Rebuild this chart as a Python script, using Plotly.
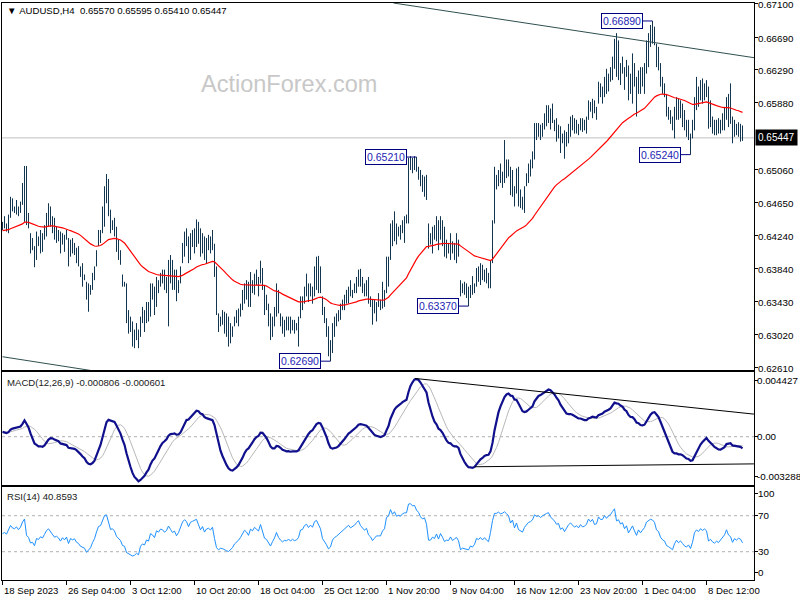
import plotly.graph_objects as go
import numpy as np

# ---------------- data (prices in pips: 6441 -> 0.6441) ----------------
x_tick_labels = ["18 Sep 2023", "26 Sep 04:00", "3 Oct 12:00", "10 Oct 20:00", "18 Oct 04:00",
                 "25 Oct 12:00", "1 Nov 20:00", "9 Nov 04:00", "16 Nov 12:00", "23 Nov 20:00",
                 "1 Dec 04:00", "8 Dec 12:00"]
bars_per_label = 32

high_pips = [
 6441,6448,6439,6450,6472,6470,6460,6468,6460,6466,
 6489,6510,6510,6452,6427,6421,6411,6429,6423,6431,
 6427,6437,6452,6464,6460,6448,6446,6435,6431,6429,
 6427,6425,6431,6421,6419,6421,6415,6409,6411,6386,
 6390,6376,6367,6365,6363,6378,6386,6406,6431,6431,
 6460,6485,6500,6494,6456,6443,6446,6435,6419,6406,
 6376,6367,6365,6332,6324,6318,6308,6316,6308,6324,
 6336,6332,6342,6342,6365,6365,6361,6373,6369,6378,
 6382,6382,6373,6394,6400,6394,6382,6382,6369,6386,
 6415,6429,6433,6423,6427,6431,6433,6444,6441,6433,
 6427,6423,6421,6425,6423,6431,6414,6386,6328,6324,
 6332,6330,6328,6324,6316,6312,6324,6332,6334,6340,
 6357,6365,6369,6367,6379,6369,6377,6382,6373,6393,
 6384,6363,6351,6340,6328,6324,6336,6365,6357,6328,
 6324,6320,6324,6324,6324,6320,6320,6316,6324,6349,
 6349,6361,6377,6365,6365,6361,6386,6398,6399,6386,
 6349,6336,6322,6312,6295,6316,6324,6328,6332,6340,
 6345,6351,6357,6361,6369,6357,6365,6373,6382,6383,
 6373,6365,6369,6373,6349,6345,6345,6342,6353,6345,
 6367,6357,6398,6398,6439,6443,6454,6439,6435,6437,
 6443,6448,6450,6520,6522,6520,6522,6521,6509,6505,
 6499,6497,6499,6439,6427,6435,6437,6448,6443,6448,
 6443,6435,6419,6415,6427,6417,6415,6427,6419,6369,
 6365,6367,6365,6361,6363,6374,6365,6384,6386,6390,
 6388,6382,6384,6378,6394,6443,6509,6499,6505,6513,
 6503,6542,6518,6518,6509,6505,6485,6507,6509,6481,
 6472,6485,6501,6513,6518,6528,6563,6563,6563,6561,
 6563,6575,6585,6585,6581,6587,6567,6569,6561,6559,
 6550,6554,6552,6562,6571,6573,6569,6567,6562,6569,
 6569,6567,6571,6591,6589,6593,6591,6583,6614,6612,
 6608,6620,6630,6624,6632,6645,6667,6674,6665,6637,
 6645,6632,6641,6634,6624,6649,6637,6620,6628,6632,
 6632,6637,6665,6674,6684,6689,6682,6661,6657,6637,
 6620,6612,6599,6583,6579,6571,6583,6595,6593,6591,
 6587,6579,6567,6567,6550,6567,6595,6620,6608,6616,
 6618,6612,6616,6608,6591,6571,6567,6567,6569,6567,
 6575,6583,6595,6599,6612,6571,6567,6562,6564,6562,
 6560]

low_pips = [
 6431,6433,6429,6427,6446,6454,6452,6450,6448,6452,
 6462,6441,6437,6433,6402,6406,6385,6394,6411,6402,
 6404,6419,6423,6435,6435,6427,6419,6415,6417,6402,
 6413,6404,6419,6386,6398,6402,6400,6390,6386,6373,
 6361,6369,6345,6330,6351,6357,6369,6386,6411,6415,
 6427,6435,6464,6448,6427,6431,6423,6404,6394,6388,
 6361,6361,6316,6303,6305,6287,6285,6295,6285,6299,
 6316,6305,6316,6318,6324,6345,6326,6336,6353,6361,
 6365,6357,6353,6312,6365,6357,6357,6343,6353,6365,
 6390,6398,6411,6390,6394,6410,6402,6410,6414,6398,
 6402,6394,6390,6406,6402,6406,6373,6326,6305,6312,
 6314,6303,6299,6287,6291,6299,6312,6316,6312,6324,
 6332,6340,6345,6336,6336,6353,6351,6363,6349,6365,
 6357,6326,6332,6312,6295,6299,6312,6324,6328,6312,
 6303,6299,6307,6307,6303,6307,6303,6307,6287,6322,
 6332,6340,6349,6342,6349,6340,6349,6357,6353,6353,
 6326,6316,6299,6275,6269,6279,6299,6312,6318,6320,
 6332,6332,6340,6340,6349,6347,6353,6353,6361,6361,
 6353,6349,6349,6340,6336,6314,6328,6318,6336,6332,
 6334,6336,6353,6361,6394,6411,6417,6413,6423,6419,
 6427,6415,6439,6439,6505,6501,6505,6503,6493,6485,
 6478,6472,6468,6408,6413,6402,6419,6417,6406,6419,
 6411,6398,6396,6402,6394,6402,6394,6390,6398,6349,
 6353,6351,6347,6337,6347,6351,6353,6361,6367,6363,
 6369,6367,6365,6359,6359,6390,6439,6481,6485,6489,
 6483,6489,6495,6497,6474,6472,6460,6476,6460,6458,
 6456,6452,6485,6489,6497,6507,6518,6542,6546,6542,
 6546,6555,6559,6563,6555,6563,6553,6540,6544,6526,
 6538,6519,6534,6538,6546,6554,6550,6550,6548,6554,
 6552,6554,6550,6567,6577,6569,6575,6567,6587,6595,
 6587,6595,6599,6602,6614,6616,6630,6620,6616,6610,
 6624,6604,6620,6591,6599,6587,6608,6571,6599,6599,
 6608,6599,6624,6632,6657,6661,6659,6632,6628,6608,
 6599,6595,6571,6567,6562,6554,6544,6567,6567,6569,
 6558,6554,6546,6542,6524,6544,6554,6579,6583,6591,
 6587,6591,6595,6556,6558,6550,6548,6548,6550,6550,
 6554,6554,6567,6558,6562,6538,6546,6548,6546,6540,
 6541]

close_pips = [
 6436,6440,6435,6448,6465,6458,6456,6462,6455,6463,
 6482,6495,6445,6436,6410,6412,6395,6420,6415,6425,
 6420,6433,6448,6455,6445,6435,6425,6428,6422,6410,
 6420,6412,6420,6395,6410,6405,6408,6395,6390,6378,
 6372,6370,6350,6355,6360,6372,6382,6402,6422,6425,
 6452,6475,6480,6455,6435,6438,6430,6410,6400,6392,
 6368,6364,6325,6315,6310,6298,6300,6305,6295,6318,
 6325,6320,6335,6330,6355,6350,6340,6365,6360,6372,
 6370,6362,6368,6385,6375,6365,6370,6355,6365,6382,
 6408,6420,6415,6400,6420,6425,6430,6435,6420,6405,
 6418,6400,6412,6415,6410,6420,6380,6330,6315,6320,
 6318,6310,6305,6300,6305,6310,6320,6325,6330,6338,
 6350,6360,6355,6345,6365,6360,6372,6368,6362,6385,
 6360,6340,6335,6318,6305,6318,6330,6350,6330,6318,
 6310,6315,6312,6318,6310,6315,6310,6312,6318,6340,
 6342,6355,6360,6352,6360,6355,6375,6380,6370,6360,
 6330,6320,6305,6285,6290,6310,6318,6322,6328,6335,
 6340,6348,6352,6358,6352,6355,6360,6368,6375,6365,
 6360,6355,6360,6345,6340,6330,6335,6340,6340,6340,
 6350,6355,6390,6395,6430,6420,6435,6425,6430,6428,
 6440,6445,6445,6510,6515,6510,6515,6505,6500,6490,
 6485,6490,6475,6420,6420,6430,6425,6440,6420,6440,
 6425,6405,6410,6408,6420,6405,6410,6415,6402,6355,
 6360,6355,6352,6350,6360,6355,6362,6378,6375,6380,
 6372,6378,6370,6365,6390,6440,6490,6490,6500,6495,
 6500,6510,6505,6500,6480,6495,6470,6495,6470,6465,
 6460,6482,6495,6508,6512,6522,6555,6550,6555,6550,
 6560,6570,6575,6580,6570,6565,6560,6552,6555,6540,
 6545,6535,6548,6558,6565,6560,6555,6560,6555,6565,
 6560,6562,6568,6585,6580,6588,6578,6580,6605,6600,
 6600,6615,6610,6620,6625,6640,6655,6630,6635,6625,
 6630,6615,6625,6605,6615,6630,6615,6600,6620,6610,
 6620,6630,6655,6665,6670,6668,6662,6640,6635,6615,
 6605,6600,6580,6575,6568,6560,6575,6585,6575,6580,
 6570,6560,6555,6560,6545,6560,6590,6600,6595,6605,
 6600,6605,6600,6565,6570,6560,6555,6560,6555,6562,
 6570,6575,6590,6575,6570,6550,6560,6555,6560,6557,
 6545]

assert len(high_pips) == len(low_pips) == len(close_pips), (len(high_pips), len(low_pips), len(close_pips))

last_ohlc = [0.65570, 0.65595, 0.65410, 0.65447]
macd_title_vals = ["-0.000806", "-0.000601"]
rsi_title_val = "40.8593"

# swing labels (bar index, price)
swing_text = ["0.66890", "0.65210", "0.63370", "0.62690", "0.65240"]
swing_bar = [325, 207, 233, 164, 344]
swing_price = [0.66890, 0.65210, 0.63370, 0.62690, 0.65240]

# trendlines (bar index, value)
tl_price_upper_x = [195.5, 376.0]
tl_price_upper_y = [0.67112, 0.66436]
tl_price_lower_x = [0.0, 46.0]
tl_price_lower_y = [0.62745, 0.62568]
tl_macd_upper_x = [206.2, 375.7]
tl_macd_upper_y = [0.00405, 0.00157]
tl_macd_lower_x = [236.2, 375.7]
tl_macd_lower_y = [-0.00209, -0.00189]

# indicator seeds
ma_seed = 0.64300
ema12_seed = 0.64400
ema26_seed = 0.64360
rsi_seed_gain = 0.00060
rsi_seed_loss = 0.00060

price_ticks = [0.67100, 0.66690, 0.66290, 0.65880, 0.65060, 0.64650, 0.64240, 0.63840, 0.63430, 0.63020, 0.62610]
macd_tick_text = ["0.004427", "0.00", "-0.003288"]
macd_tick_pos = [0.00394, 0.0, -0.00280]
rsi_tick_text = ["100", "70", "30", "0"]
rsi_tick_pos = [95.2, 70, 30, 7.4]

# ---------------- derived ----------------
high = np.array(high_pips) / 10000.0
low = np.array(low_pips) / 10000.0
close = np.array(close_pips) / 10000.0
n = len(close)
idx = np.arange(n)

def ema(vals, period, seed):
    a = 2.0 / (period + 1)
    out = []
    e = seed
    for v in vals:
        e = e + a * (v - e)
        out.append(e)
    return np.array(out)

ma55 = ema(close, 55, ma_seed)
macd = ema(close, 12, ema12_seed) - ema(close, 26, ema26_seed)
signal = np.array([macd[max(0, i - 8):i + 1].mean() for i in range(n)])

ag, al = rsi_seed_gain, rsi_seed_loss
rsi = []
prev = close[0]
for c in close:
    d = c - prev
    prev = c
    ag = (ag * 13 + max(d, 0)) / 14
    al = (al * 13 + max(-d, 0)) / 14
    rsi.append(100 - 100 / (1 + ag / al) if al > 0 else 100)
rsi = np.array(rsi)

# ---------------- figure ----------------
FONT = "Liberation Sans, Arial, sans-serif"
BAR_COL = "#123650"

fig = go.Figure()

bx, by = [], []
for i in range(n):
    bx += [i, i, None]
    by += [low[i], high[i], None]
fig.add_trace(go.Scatter(x=bx, y=by, mode="lines", line=dict(color=BAR_COL, width=1),
                         hoverinfo="skip", xaxis="x", yaxis="y"))
fig.add_trace(go.Scatter(x=idx, y=ma55, mode="lines", line=dict(color="#ff0000", width=1.2),
                         xaxis="x", yaxis="y"))
fig.add_trace(go.Scatter(x=tl_price_upper_x, y=tl_price_upper_y, mode="lines",
                         line=dict(color="#2f4f4f", width=1), xaxis="x", yaxis="y"))
fig.add_trace(go.Scatter(x=tl_price_lower_x, y=tl_price_lower_y, mode="lines",
                         line=dict(color="#2f4f4f", width=1), xaxis="x", yaxis="y"))

# MACD
fig.add_trace(go.Scatter(x=idx, y=signal, mode="lines", line=dict(color="#b8b8b8", width=1),
                         xaxis="x2", yaxis="y2"))
fig.add_trace(go.Scatter(x=idx, y=macd, mode="lines", line=dict(color="#10108c", width=2.2),
                         xaxis="x2", yaxis="y2"))
fig.add_trace(go.Scatter(x=tl_macd_upper_x, y=tl_macd_upper_y, mode="lines",
                         line=dict(color="#000000", width=1), xaxis="x2", yaxis="y2"))
fig.add_trace(go.Scatter(x=tl_macd_lower_x, y=tl_macd_lower_y, mode="lines",
                         line=dict(color="#000000", width=1), xaxis="x2", yaxis="y2"))

# RSI
fig.add_trace(go.Scatter(x=idx, y=rsi, mode="lines", line=dict(color="#1e90ff", width=1),
                         xaxis="x3", yaxis="y3"))

# plot area: x 2..754, y 3..580
H_PLOT = 577.0
def pf(ypx):
    return (580.0 - ypx) / H_PLOT

xr = [-0.25, 375.75]
axis_common = dict(showline=True, linecolor="black", linewidth=1, mirror=True,
                   showgrid=False, zeroline=False, automargin=False)

fig.update_layout(
    width=800, height=600,
    margin=dict(l=2, r=46, t=3, b=20, autoexpand=False),
    paper_bgcolor="white", plot_bgcolor="white",
    showlegend=False, hovermode=False,
    font=dict(family=FONT, size=10, color="black"),
    xaxis=dict(domain=[0, 1], range=xr, anchor="y", showticklabels=False, ticks="", **axis_common),
    xaxis2=dict(domain=[0, 1], range=xr, anchor="y2", matches="x", showticklabels=False, ticks="", **axis_common),
    xaxis3=dict(domain=[0, 1], range=xr, anchor="y3", matches="x", showticklabels=False,
                ticks="outside", ticklen=4, tickcolor="black",
                tickvals=[k * bars_per_label for k in range(len(x_tick_labels))], **axis_common),
    yaxis=dict(domain=[pf(370), pf(3)], range=[0.62581, 0.67112], side="right", anchor="x",
               tickvals=price_ticks, showticklabels=False,
               ticks="outside", ticklen=3, tickcolor="black", **axis_common),
    yaxis2=dict(domain=[pf(485), pf(372)], range=[-0.003358, 0.004497], side="right", anchor="x2",
                tickvals=macd_tick_pos, showticklabels=False,
                ticks="outside", ticklen=3, tickcolor="black", **axis_common),
    yaxis3=dict(domain=[pf(580), pf(487)], range=[-1.44, 101.9], side="right", anchor="x3",
                tickvals=rsi_tick_pos, showticklabels=False,
                ticks="outside", ticklen=3, tickcolor="black", **axis_common),
)

shapes = []
shapes.append(dict(type="line", xref="paper", x0=0, x1=1, yref="y", y0=last_ohlc[3], y1=last_ohlc[3],
                   line=dict(color="#c0c0c0", width=1), layer="below"))
shapes.append(dict(type="line", xref="paper", x0=0, x1=1, yref="y2", y0=0, y1=0,
                   line=dict(color="#b0b0b0", width=1, dash="3px,3px"), layer="below"))
for lv in [70, 30]:
    shapes.append(dict(type="line", xref="paper", x0=0, x1=1, yref="y3", y0=lv, y1=lv,
                       line=dict(color="#b0b0b0", width=1, dash="3px,3px"), layer="below"))
for b, p in zip(swing_bar, swing_price):
    shapes.append(dict(type="line", xref="x", yref="y", x0=b - 5, x1=b, y0=p, y1=p,
                       line=dict(color="#000080", width=1)))
fig.update_layout(shapes=shapes)

TICKF = dict(family=FONT, size=9.8, color="black")
ann = []
for v in price_ticks:
    ann.append(dict(x=1, y=v, xref="paper", yref="y", text="%.5f" % v, showarrow=False,
                    xanchor="left", yanchor="middle", xshift=2, yshift=-1, font=TICKF))
for v, t in zip(macd_tick_pos, macd_tick_text):
    ann.append(dict(x=1, y=v, xref="paper", yref="y2", text=t, showarrow=False,
                    xanchor="left", yanchor="middle", xshift=1, font=TICKF))
for v, t in zip(rsi_tick_pos, rsi_tick_text):
    ann.append(dict(x=1, y=v, xref="paper", yref="y3", text=t, showarrow=False,
                    xanchor="left", yanchor="middle", xshift=2, font=TICKF))
for t, b, p in zip(swing_text, swing_bar, swing_price):
    ann.append(dict(x=b - 5, y=p, xref="x", yref="y", text=t, showarrow=False,
                    xanchor="right", yanchor="middle", bgcolor="white",
                    bordercolor="#000080", borderwidth=1, borderpad=1,
                    font=dict(family=FONT, size=10.5, color="#1e1eb4")))
ann.append(dict(x=1, y=last_ohlc[3], xref="paper", yref="y", text="%.5f" % last_ohlc[3],
                showarrow=False, xanchor="left", yanchor="middle", xshift=1,
                bgcolor="black", borderpad=2, font=dict(family=FONT, size=10, color="white")))
hdr = "\u25bc\u00a0AUDUSD,H4\u00a0\u00a0" + "\u00a0".join("%.5f" % v for v in last_ohlc)
ann.append(dict(x=(5 - 2) / 752.0, y=pf(10), xref="paper", yref="paper", text=hdr, showarrow=False,
                xanchor="left", yanchor="middle", font=dict(family=FONT, size=9.6, color="black")))
ann.append(dict(x=(199 - 2) / 752.0, y=pf(84), xref="paper", yref="paper", text="ActionForex.com",
                showarrow=False, xanchor="left", yanchor="middle",
                font=dict(family=FONT, size=23.5, color="#c8c8c8")))
ann.append(dict(x=(5 - 2) / 752.0, y=pf(382), xref="paper", yref="paper",
                text="MACD(12,26,9)\u00a0" + "\u00a0".join(macd_title_vals), showarrow=False,
                xanchor="left", yanchor="middle", font=dict(family=FONT, size=9.6, color="#202020")))
ann.append(dict(x=(5 - 2) / 752.0, y=pf(496), xref="paper", yref="paper",
                text="RSI(14)\u00a0" + rsi_title_val, showarrow=False,
                xanchor="left", yanchor="middle", font=dict(family=FONT, size=9.6, color="#202020")))
for k, lbl in enumerate(x_tick_labels):
    ann.append(dict(x=k * bars_per_label, y=0, xref="x3", yref="paper", text=lbl.replace(" ", "\u00a0"),
                    showarrow=False, xanchor="left", yanchor="top", yshift=-3, xshift=-1,
                    font=dict(family=FONT, size=9.6, color="black")))
fig.update_layout(annotations=ann)

fig.write_html("out.html", config={"displayModeBar": False, "staticPlot": True},
               post_script="document.body.style.margin='0';document.body.style.padding='0';")
